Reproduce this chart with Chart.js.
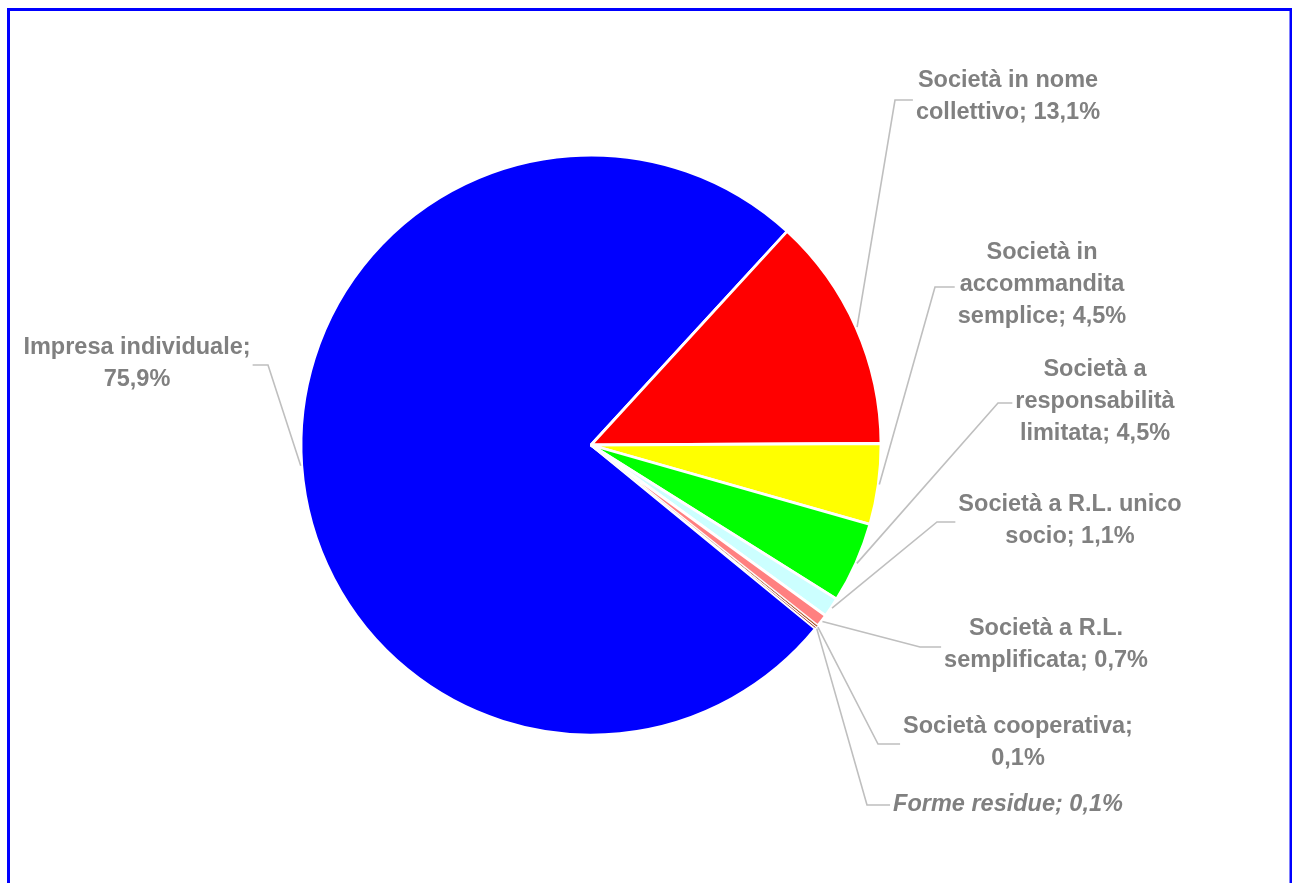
<!DOCTYPE html>
<html>
<head>
<meta charset="utf-8">
<script src="https://cdn.jsdelivr.net/npm/chart.js@4.4.1/dist/chart.umd.min.js"></script>
<style>
  html, body { margin: 0; padding: 0; background: #fff; }
  canvas { display: block; }
</style>
</head>
<body>
<canvas id="forme-chart" width="1292" height="883"></canvas>
<script>
const categories = [
  "Impresa individuale",
  "Società in nome collettivo",
  "Società in accommandita semplice",
  "Società a responsabilità limitata",
  "Società a R.L. unico socio",
  "Società a R.L. semplificata",
  "Società cooperativa",
  "Forme residue"
];
const shares = [75.9, 13.1, 4.5, 4.5, 1.1, 0.7, 0.1, 0.1];
const sliceColors = ["#0000ff", "#ff0000", "#ffff00", "#00ff00", "#ccffff", "#ff8080", "#993300", "#800000"];

// where each label block sits, the bend of its leader line and the wrap width
const labelLayout = [
  { x: 137, y: 364, elbowX: 268, elbowY: 365, wrap: 260 },
  { x: 1008, y: 97, elbowX: 895, elbowY: 100, wrap: 200 },
  { x: 1042, y: 285, elbowX: 935, elbowY: 287, wrap: 185 },
  { x: 1095, y: 402, elbowX: 998, elbowY: 403, wrap: 185 },
  { x: 1070, y: 521, elbowX: 937, elbowY: 522, wrap: 240 },
  { x: 1046, y: 645, elbowX: 920, elbowY: 647, wrap: 215 },
  { x: 1018, y: 743, elbowX: 878, elbowY: 744, wrap: 250 },
  { x: 1008, y: 805, elbowX: 867, elbowY: 805, wrap: 260, italic: true }
];

const LABEL_FONT = "23.5px 'Liberation Sans', Arial, sans-serif";
const LINE_H = 32;

function fmt(v) {
  return v.toFixed(1).replace(".", ",") + "%";
}

function wrapText(ctx, text, maxW) {
  const words = text.split(" ");
  const lines = [];
  let cur = "";
  words.forEach(w => {
    const test = cur ? cur + " " + w : w;
    if (cur && ctx.measureText(test).width > maxW) {
      lines.push(cur);
      cur = w;
    } else {
      cur = test;
    }
  });
  if (cur) lines.push(cur);
  return lines;
}

const framePlugin = {
  id: "frame",
  beforeDraw(chart) {
    const ctx = chart.ctx;
    ctx.save();
    ctx.fillStyle = "#ffffff";
    ctx.fillRect(0, 0, chart.width, chart.height);
    ctx.strokeStyle = "#0000ff";
    ctx.lineWidth = 3;
    ctx.strokeRect(8.5, 9.5, 1282.5, 900);
    ctx.restore();
  }
};

const labelPlugin = {
  id: "sliceLabels",
  afterDatasetsDraw(chart) {
    const ctx = chart.ctx;
    const arcs = chart.getDatasetMeta(0).data;
    ctx.save();
    arcs.forEach((arc, i) => {
      const lay = labelLayout[i];
      const p = arc.getProps(["x", "y", "startAngle", "endAngle", "outerRadius"], true);
      const mid = (p.startAngle + p.endAngle) / 2;
      const sx = p.x + Math.cos(mid) * (p.outerRadius + 1);
      const sy = p.y + Math.sin(mid) * (p.outerRadius + 1);

      ctx.font = (lay.italic ? "italic " : "") + "bold " + LABEL_FONT;
      const lines = wrapText(ctx, categories[i] + "; " + fmt(shares[i]), lay.wrap);
      const maxW = Math.max(...lines.map(l => ctx.measureText(l).width));
      const onRight = lay.x > lay.elbowX;
      const endX = onRight ? lay.x - maxW / 2 - 3 : lay.x + maxW / 2 + 2;

      ctx.strokeStyle = "#bfbfbf";
      ctx.lineWidth = 1.6;
      ctx.beginPath();
      ctx.moveTo(sx, sy);
      ctx.lineTo(lay.elbowX, lay.elbowY);
      ctx.lineTo(endX, lay.elbowY);
      ctx.stroke();

      ctx.fillStyle = "#808080";
      ctx.textAlign = "center";
      ctx.textBaseline = "middle";
      lines.forEach((l, k) => {
        ctx.fillText(l, lay.x, lay.y + (k - (lines.length - 1) / 2) * LINE_H);
      });
    });
    ctx.restore();
  }
};

const ctx = document.getElementById("forme-chart").getContext("2d");

new Chart(ctx, {
  type: "pie",
  data: {
    labels: categories,
    datasets: [{
      data: shares,
      backgroundColor: sliceColors,
      borderColor: "#ffffff",
      // thinner outlines on the two tiny slices so they stay visible
      borderWidth: [2.8, 2.8, 2.8, 2.8, 2.8, 2.8, 0.6, 1.2],
      radius: 290
    }]
  },
  options: {
    responsive: false,
    animation: false,
    events: [],
    rotation: 129.3,
    layout: {
      padding: { left: 0, right: 110, top: 7, bottom: 0 }
    },
    plugins: {
      legend: { display: false },
      tooltip: { enabled: false }
    }
  },
  plugins: [framePlugin, labelPlugin]
});
</script>
</body>
</html>
